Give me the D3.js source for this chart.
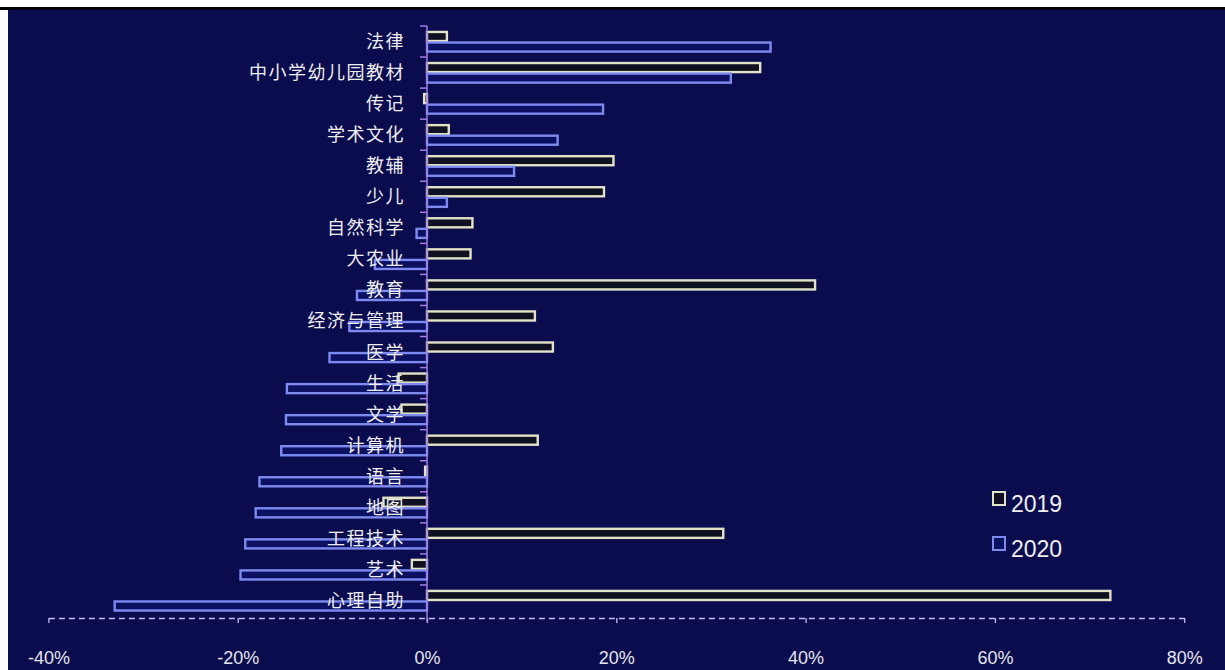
<!DOCTYPE html>
<html>
<head>
<meta charset="utf-8">
<script src="https://cdn.jsdelivr.net/npm/d3@7"></script>
<style>
  html, body { margin: 0; padding: 0; background: #ffffff; }
  svg { display: block; }
</style>
</head>
<body>
<svg id="chart" width="1225" height="670"></svg>
<script>
// Year-on-year change by book category (%), 2019 vs 2020
const categories = ['法律','中小学幼儿园教材','传记','学术文化','教辅','少儿','自然科学','大农业','教育','经济与管理','医学','生活','文学','计算机','语言','地图','工程技术','艺术','心理自助'];
const values2019 = [2.1, 35.2, -0.3, 2.3, 19.7, 18.7, 4.8, 4.6, 41.0, 11.4, 13.3, -3.0, -2.7, 11.7, -0.2, -4.6, 31.3, -1.6, 72.2];
const values2020 = [36.3, 32.1, 18.6, 13.8, 9.2, 2.1, -1.1, -5.5, -7.4, -8.2, -10.3, -14.8, -14.9, -15.4, -17.7, -18.1, -19.2, -19.7, -33.0];
const seriesNames = ['2019', '2020'];
const xTicks = [-40, -20, 0, 20, 40, 60, 80];

const W = 1225, H = 670;
const svg = d3.select('#chart');

const style = {
  '2019': { stroke: '#e2e2c6', fill: '#0f1022' },
  '2020': { stroke: '#7d8bf0', fill: '#0c1060' }
};

// frame: white margin, black rule, navy plot area
svg.append('rect').attr('x', 0).attr('y', 0).attr('width', W).attr('height', H).attr('fill', '#ffffff');
svg.append('rect').attr('x', 8).attr('y', 9).attr('width', W - 8).attr('height', H - 9).attr('fill', '#0b0c4e');
svg.append('rect').attr('x', 0).attr('y', 7).attr('width', W).attr('height', 3).attr('fill', '#000000');

const x = d3.scaleLinear().domain([-40, 80]).range([48.4, 1184.2]);
const y = d3.scaleBand().domain(categories).range([26, 616]).paddingInner(0.32).paddingOuter(0.16);
const ySub = d3.scaleBand().domain(seriesNames).range([0, y.bandwidth()]);

const rows = categories.map((c, i) => ({ cat: c, '2019': values2019[i], '2020': values2020[i] }));

// bars
const groups = svg.append('g').selectAll('g')
  .data(rows).join('g')
  .attr('transform', d => `translate(0,${y(d.cat)})`);

groups.selectAll('rect')
  .data(d => seriesNames.map(s => ({ s, v: d[s] })))
  .join('rect')
  .attr('x', d => Math.min(x(0), x(d.v)))
  .attr('y', d => ySub(d.s) + 1)
  .attr('width', d => Math.max(1.5, Math.abs(x(d.v) - x(0))))
  .attr('height', ySub.bandwidth() - 1.5)
  .attr('fill', d => style[d.s].fill)
  .attr('stroke', d => style[d.s].stroke)
  .attr('stroke-width', 2.4);

// x axis: dashed baseline with downward ticks
const axisY = 618;
const xAxis = svg.append('g').attr('transform', `translate(0,${axisY})`)
  .call(d3.axisBottom(x).tickValues(xTicks).tickSize(5).tickSizeOuter(0).tickFormat(d => d + '%'));
xAxis.select('.domain')
  .attr('stroke', '#c9b9f2').attr('stroke-width', 1.3).attr('stroke-dasharray', '6,4');
xAxis.selectAll('.tick line').attr('stroke', '#c9b9f2').attr('stroke-width', 1.3);
xAxis.selectAll('.tick text')
  .attr('y', 46).attr('dy', 0)
  .attr('fill', '#e4e4ea')
  .style('font-family', '"Liberation Sans", Arial, sans-serif')
  .style('font-size', '18px');

// y axis at zero with ticks on category boundaries
const zeroX = x(0);
const yAxis = svg.append('g');
yAxis.append('line')
  .attr('x1', zeroX).attr('x2', zeroX).attr('y1', 26).attr('y2', 622)
  .attr('stroke', '#a27ee6').attr('stroke-width', 1.5);
yAxis.selectAll('line.tick')
  .data(d3.range(categories.length).map(i => 26 + i * y.step()))
  .join('line').attr('class', 'tick')
  .attr('x1', zeroX - 7).attr('x2', zeroX)
  .attr('y1', d => d).attr('y2', d => d)
  .attr('stroke', '#a27ee6').attr('stroke-width', 1.5);

// category labels, drawn over the bars
svg.append('g').selectAll('text')
  .data(categories).join('text')
  .attr('x', 405)
  .attr('y', d => y(d) + y.bandwidth() / 2)
  .attr('dy', '0.36em')
  .attr('text-anchor', 'end')
  .attr('fill', '#eeeeee')
  .style('font-family', '"Noto Sans CJK SC", sans-serif')
  .style('font-size', '18px')
  .style('letter-spacing', '1.5px')
  .text(d => d);

// legend
const legend = svg.append('g').attr('transform', 'translate(993,0)');
const legendRows = [{ s: '2019', y: 492 }, { s: '2020', y: 537 }];
legend.selectAll('rect')
  .data(legendRows).join('rect')
  .attr('x', 0).attr('y', d => d.y)
  .attr('width', 12).attr('height', 13)
  .attr('fill', d => style[d.s].fill)
  .attr('stroke', d => style[d.s].stroke)
  .attr('stroke-width', 2);
legend.selectAll('text')
  .data(legendRows).join('text')
  .attr('x', 18).attr('y', d => d.y + 20)
  .attr('fill', '#eeeeee')
  .style('font-family', '"Liberation Sans", Arial, sans-serif')
  .style('font-size', '23px')
  .text(d => d.s);
</script>
</body>
</html>
